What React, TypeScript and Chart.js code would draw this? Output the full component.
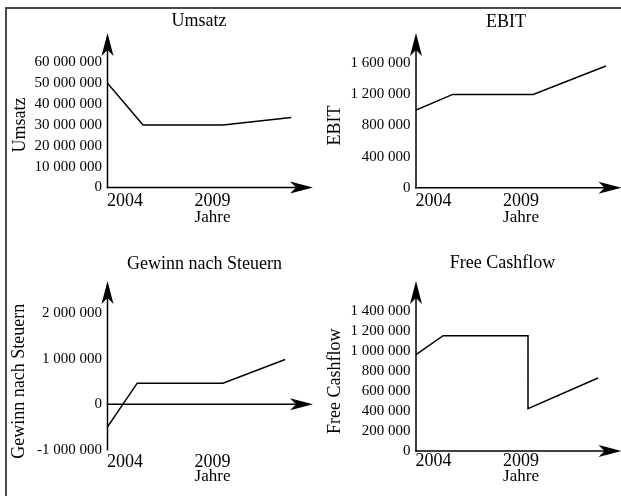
import React, { useEffect, useRef } from "react";
import { Chart, registerables } from "chart.js";

Chart.register(...registerables);

const FONT = "'Liberation Serif', 'Times New Roman', serif";

// x axis (years)
const xTickYears = [2004, 2009];
const xMinYear = 2003;
const xMaxYear = 2015;
const xAxisTitle = "Jahre";

// Umsatz
const umsatzYears = [2003, 2005.03, 2009.6, 2013.5];
const umsatzValues = [50000000, 30000000, 30000000, 33600000];
const umsatzTicks = [0, 10000000, 20000000, 30000000, 40000000, 50000000, 60000000];

// EBIT
const ebitYears = [2003, 2005.1, 2009.7, 2013.85];
const ebitValues = [1000000, 1200000, 1200000, 1565000];
const ebitTicks = [0, 400000, 800000, 1200000, 1600000];

// Gewinn nach Steuern
const gewinnYears = [2003, 2004.7, 2009.6, 2013.15];
const gewinnValues = [-500000, 460000, 460000, 980000];
const gewinnTicks = [-1000000, 0, 1000000, 2000000];

// Free Cashflow
const fcfYears = [2003, 2004.55, 2009.4, 2009.4, 2013.4];
const fcfValues = [965000, 1155000, 1155000, 424000, 731000];
const fcfTicks = [0, 200000, 400000, 600000, 800000, 1000000, 1200000, 1400000];

const fmt = (v: number) => {
  const s = Math.abs(Math.round(v))
    .toString()
    .replace(/\B(?=(\d{3})+(?!\d))/g, " ");
  return (v < 0 ? "-" : "") + s;
};

const CW = 320;
const CH = 248;

const axisArrowPlugin = {
  id: "axisArrows",
  afterDatasetsDraw(chart: any, _args: any, opts: any) {
    const { ctx, chartArea, scales } = chart;
    const x0 = chartArea.left;
    const y0 = scales.y.getPixelForValue(0);
    const xTip = x0 + opts.xLength;
    const yTip = opts.yTip;
    const L = 23;
    const W = 6;
    const N = 6;
    ctx.save();
    ctx.strokeStyle = "#000";
    ctx.fillStyle = "#000";
    ctx.lineWidth = 1.5;
    // y axis
    ctx.beginPath();
    ctx.moveTo(x0, chartArea.bottom + 0.75);
    ctx.lineTo(x0, yTip + L - N);
    ctx.stroke();
    // x axis
    ctx.beginPath();
    ctx.moveTo(x0 - 0.75, y0);
    ctx.lineTo(xTip - L + N, y0);
    ctx.stroke();
    // y arrow head
    ctx.beginPath();
    ctx.moveTo(x0, yTip);
    ctx.lineTo(x0 + W, yTip + L);
    ctx.lineTo(x0, yTip + L - N);
    ctx.lineTo(x0 - W, yTip + L);
    ctx.closePath();
    ctx.fill();
    // x arrow head
    ctx.beginPath();
    ctx.moveTo(xTip, y0);
    ctx.lineTo(xTip - L, y0 - W);
    ctx.lineTo(xTip - L + N, y0);
    ctx.lineTo(xTip - L, y0 + W);
    ctx.closePath();
    ctx.fill();
    ctx.restore();
  },
};

const panelTitlePlugin = {
  id: "panelTitle",
  afterDraw(chart: any, _args: any, opts: any) {
    const { ctx } = chart;
    ctx.save();
    ctx.font = `18px ${FONT}`;
    ctx.fillStyle = "#000";
    ctx.textAlign = "center";
    ctx.textBaseline = "alphabetic";
    ctx.fillText(opts.text, opts.x, opts.y);
    ctx.restore();
  },
};

type PanelCfg = {
  left: number;
  top: number;
  title: string;
  titleX: number;
  titleBaseline: number;
  yTitle: string;
  yTitlePad: number;
  xs: number[];
  ys: number[];
  yTicks: number[];
  axisLeft: number;
  chartTop: number;
  bottomPad: number;
  xScaleH: number;
  xTickPad: number;
  xLength: number;
};

const panels: PanelCfg[] = [
  {
    left: 0, top: 0, title: "Umsatz", titleX: 199, titleBaseline: 26.3,
    yTitle: "Umsatz", yTitlePad: 9.2, xs: umsatzYears, ys: umsatzValues, yTicks: umsatzTicks,
    axisLeft: 107.5, chartTop: 62.3, bottomPad: 15.8, xScaleH: 44.7, xTickPad: 3.2, xLength: 205.5,
  },
  {
    left: 310, top: 0, title: "EBIT", titleX: 196, titleBaseline: 26.5,
    yTitle: "EBIT", yTitlePad: 14.2, xs: ebitYears, ys: ebitValues, yTicks: ebitTicks,
    axisLeft: 106, chartTop: 63.3, bottomPad: 15.8, xScaleH: 44.5, xTickPad: 2.3, xLength: 205.5,
  },
  {
    left: 0, top: 248, title: "Gewinn nach Steuern", titleX: 204.5, titleBaseline: 20.7,
    yTitle: "Gewinn nach Steuern", yTitlePad: 8.2, xs: gewinnYears, ys: gewinnValues, yTicks: gewinnTicks,
    axisLeft: 107.5, chartTop: 65, bottomPad: 4.8, xScaleH: 41.5, xTickPad: 1.8, xLength: 205.5,
  },
  {
    left: 310, top: 248, title: "Free Cashflow", titleX: 192.5, titleBaseline: 20,
    yTitle: "Free Cashflow", yTitlePad: 14.2, xs: fcfYears, ys: fcfValues, yTicks: fcfTicks,
    axisLeft: 106, chartTop: 63.3, bottomPad: 4.8, xScaleH: 40.2, xTickPad: -1, xLength: 205.5,
  },
];

function Panel({ cfg }: { cfg: PanelCfg }) {
  const ref = useRef<HTMLCanvasElement | null>(null);
  useEffect(() => {
    if (!ref.current) return;
    const chart = new Chart(ref.current, {
      type: "line",
      data: {
        datasets: [
          {
            data: cfg.xs.map((x, i) => ({ x, y: cfg.ys[i] })),
            borderColor: "#000",
            borderWidth: 1.5,
            pointRadius: 0,
            fill: false,
            tension: 0,
          },
        ],
      },
      options: {
        responsive: false,
        animation: false,
        devicePixelRatio: 1,
        events: [],
        layout: {
          autoPadding: false,
          padding: {
            left: 0,
            top: cfg.chartTop,
            right: CW - cfg.axisLeft - 210,
            bottom: cfg.bottomPad,
          },
        },
        plugins: {
          legend: { display: false },
          tooltip: { enabled: false },
          title: { display: false },
          axisArrows: { xLength: cfg.xLength, yTip: 33 },
          panelTitle: { text: cfg.title, x: cfg.titleX, y: cfg.titleBaseline },
        } as any,
        scales: {
          x: {
            type: "linear",
            min: xMinYear,
            max: xMaxYear,
            grid: { display: false, drawTicks: false },
            border: { display: false },
            afterBuildTicks: (s: any) => {
              s.ticks = xTickYears.map((v) => ({ value: v }));
            },
            afterFit: (s: any) => {
              s.height = cfg.xScaleH;
            },
            ticks: {
              callback: (v: any) => String(v),
              font: { family: FONT, size: 18 },
              color: "#000",
              padding: cfg.xTickPad,
              maxRotation: 0,
              minRotation: 0,
              autoSkip: false,
            },
            title: {
              display: true,
              text: xAxisTitle,
              font: { family: FONT, size: 17 },
              color: "#000",
              padding: { top: 0, bottom: 4 },
            },
          },
          y: {
            type: "linear",
            min: cfg.yTicks[0],
            max: cfg.yTicks[cfg.yTicks.length - 1],
            grid: { display: false, drawTicks: false },
            border: { display: false },
            afterBuildTicks: (s: any) => {
              s.ticks = cfg.yTicks.map((v) => ({ value: v }));
            },
            afterFit: (s: any) => {
              s.width = cfg.axisLeft;
            },
            ticks: {
              callback: (v: any) => fmt(Number(v)),
              font: { family: FONT, size: 15 },
              color: "#000",
              padding: 5.5,
              autoSkip: false,
            },
            title: {
              display: true,
              text: cfg.yTitle,
              font: { family: FONT, size: 18 },
              color: "#000",
              padding: { top: cfg.yTitlePad, bottom: 0 },
            },
          },
        },
      } as any,
      plugins: [axisArrowPlugin, panelTitlePlugin],
    });
    return () => chart.destroy();
  }, [cfg]);
  return (
    <canvas
      ref={ref}
      width={CW}
      height={CH}
      style={{ position: "absolute", left: cfg.left, top: cfg.top, width: CW, height: CH, display: "block" }}
    />
  );
}

export default function App() {
  return (
    <div
      style={{
        position: "fixed",
        left: 0,
        top: 0,
        width: 621,
        height: 496,
        overflow: "hidden",
        background: "#fff",
      }}
    >
      <div
        style={{
          position: "absolute",
          left: 5,
          top: 7,
          width: 800,
          height: 800,
          borderLeft: "2px solid #4a4a4a",
          borderTop: "2px solid #4a4a4a",
        }}
      />
      {panels.map((p, i) => (
        <Panel key={i} cfg={p} />
      ))}
    </div>
  );
}
